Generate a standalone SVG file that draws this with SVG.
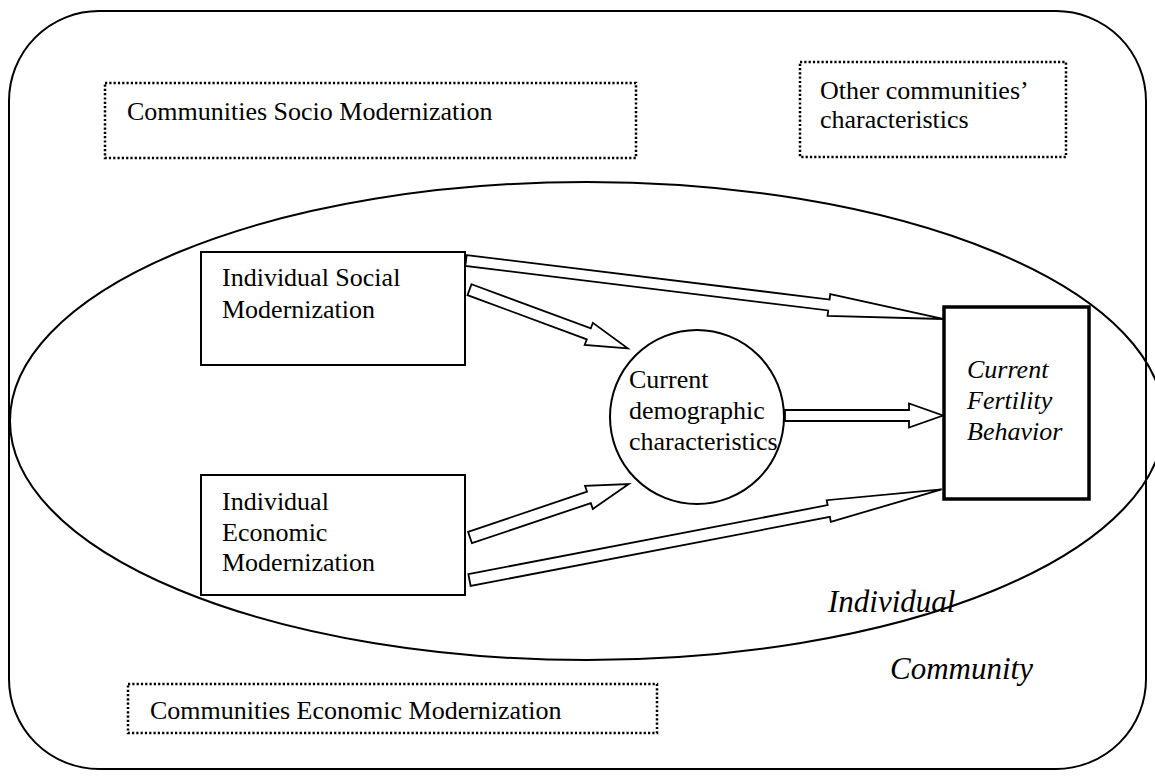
<svg xmlns="http://www.w3.org/2000/svg" width="1155" height="778" viewBox="0 0 1155 778">
<style>
  text { font-family: "Liberation Serif", "Times New Roman", serif; font-size: 26px; fill: #000; }
  .it { font-style: italic; }
  .big { font-size: 31px; }
  .line { fill: none; stroke: #000; stroke-width: 2; }
  .dot { fill: none; stroke: #000; stroke-width: 2.5; stroke-dasharray: 2.2 2.1; }
  .box { fill: #fff; stroke: #000; stroke-width: 2; }
  .thick { fill: #fff; stroke: #000; stroke-width: 3.5; }
  .arr { fill: #fff; stroke: #000; stroke-width: 1.8; stroke-linejoin: miter; }
</style>
<rect width="1155" height="778" fill="#fff"/>
<g id="community">
  <rect class="line" x="9" y="11" width="1137" height="758" rx="90" ry="90"/>
  <text class="it big" x="890" y="679">Community</text>
</g>
<g id="individual">
  <ellipse class="line" cx="587" cy="421" rx="577" ry="239"/>
  <text class="it big" x="828" y="612">Individual</text>
</g>
<g id="comm-socio">
  <rect class="dot" x="105" y="83" width="531" height="75"/>
  <text x="127" y="120">Communities Socio Modernization</text>
</g>
<g id="comm-other">
  <rect class="dot" x="800" y="62" width="266" height="95"/>
  <text x="820" y="99">Other communities’</text>
  <text x="820" y="128">characteristics</text>
</g>
<g id="comm-econ">
  <rect class="dot" x="128" y="684" width="529" height="49"/>
  <text x="150" y="719">Communities Economic Modernization</text>
</g>
<g id="connectors">
  <polygon class="arr" transform="translate(466,260.5) rotate(6.99)" points="0,-5.5 365.6,-5.5 365.6,-11 480.6,0 365.6,11 365.6,5.5 0,5.5"/>
  <polygon class="arr" transform="translate(469.5,289.7) rotate(20.32)" points="0,-5.8 127.2,-5.8 127.2,-11.8 168.7,0 127.2,11.8 127.2,5.8 0,5.8"/>
  <polygon class="arr" transform="translate(785,415.5) rotate(0)" points="0,-5.5 124,-5.5 124,-12 158,0 124,12 124,5.5 0,5.5"/>
  <polygon class="arr" transform="translate(470,537.5) rotate(-18.63)" points="0,-6 125.5,-6 125.5,-12.2 167.5,0 125.5,12.2 125.5,6 0,6"/>
  <polygon class="arr" transform="translate(469.5,580) rotate(-10.87)" points="0,-6 365.8,-6 365.8,-11 480.8,0 365.8,11 365.8,6 0,6"/>
</g>
<g id="ind-social">
  <rect class="box" x="201" y="252" width="264" height="113"/>
  <text x="222" y="286">Individual Social</text>
  <text x="222" y="318">Modernization</text>
</g>
<g id="ind-econ">
  <rect class="box" x="201" y="475" width="264" height="120"/>
  <text x="222" y="510">Individual</text>
  <text x="222" y="541">Economic</text>
  <text x="222" y="571">Modernization</text>
</g>
<g id="demographic">
  <ellipse class="box" cx="697" cy="417" rx="87" ry="87"/>
  <text x="629" y="388">Current</text>
  <text x="629" y="419">demographic</text>
  <text x="629" y="450">characteristics</text>
</g>
<g id="fertility">
  <rect class="thick" x="944" y="307" width="145" height="192"/>
  <text class="it" x="967" y="378">Current</text>
  <text class="it" x="967" y="409">Fertility</text>
  <text class="it" x="967" y="440">Behavior</text>
</g>
</svg>
